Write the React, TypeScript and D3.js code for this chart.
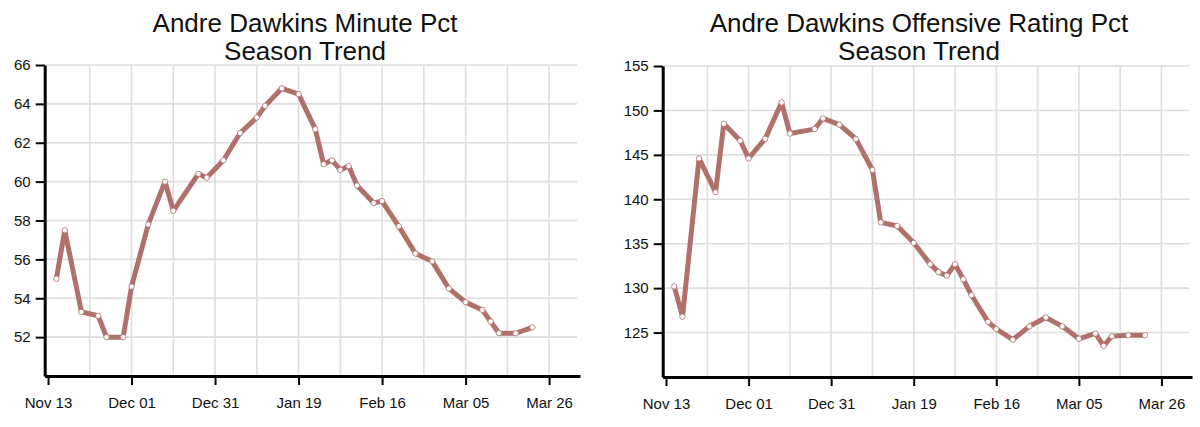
import { useEffect, useRef } from "react";
import * as d3 from "d3";

// game slots on the x axis (same for both charts)
const gameSlots = [
  1, 2, 4, 6, 7, 9, 10, 12, 14, 15, 18, 19, 21, 23, 25, 26, 28, 30, 32, 33, 34,
  35, 36, 37, 39, 40, 42, 44, 46, 48, 50, 52, 53, 54, 56, 58,
];
const minutePct = [
  55.0, 57.5, 53.3, 53.1, 52.0, 52.0, 54.6, 57.8, 60.0, 58.5, 60.4, 60.2, 61.1,
  62.5, 63.3, 63.9, 64.8, 64.5, 62.7, 60.9, 61.1, 60.6, 60.8, 59.8, 58.9, 59.0,
  57.7, 56.3, 55.9, 54.5, 53.8, 53.4, 52.8, 52.2, 52.2, 52.5,
];
const offRatingPct = [
  130.2, 126.8, 144.6, 140.8, 148.5, 146.6, 144.6, 146.8, 150.9, 147.4, 147.9,
  149.1, 148.4, 146.8, 143.3, 137.4, 137.0, 135.1, 132.7, 131.8, 131.4, 132.7,
  131.0, 129.2, 126.2, 125.4, 124.2, 125.7, 126.7, 125.7, 124.3, 124.9, 123.5,
  124.6, 124.7, 124.7,
];
const dateTicks = [0, 10, 20, 30, 40, 50, 60];
const dateLabels = ["Nov 13", "Dec 01", "Dec 31", "Jan 19", "Feb 16", "Mar 05", "Mar 26"];
const minuteTicks = [52, 54, 56, 58, 60, 62, 64, 66];
const ratingTicks = [125, 130, 135, 140, 145, 150, 155];

const FONT = "'Liberation Sans', Arial, Helvetica, sans-serif";
const LINE = "#b0716b";

type ChartProps = {
  title: string;
  values: number[];
  yDomain: [number, number];
  yTicks: number[];
  offsetX: number;
  left: number;
  right: number;
  top: number;
  bottom: number;
  titleX: number;
};

function TrendChart(props: ChartProps) {
  const ref = useRef<SVGGElement>(null);

  useEffect(() => {
    const { title, values, yDomain, yTicks, left, right, top, bottom, titleX } = props;
    const g = d3.select(ref.current);
    g.selectAll("*").remove();

    const x = d3.scaleLinear().domain([-0.4, 63.7]).range([left, right]);
    const y = d3.scaleLinear().domain(yDomain).range([bottom, top]);

    // grid
    g.append("g")
      .selectAll("line")
      .data(d3.range(5, 61, 5))
      .join("line")
      .attr("x1", (d) => x(d))
      .attr("x2", (d) => x(d))
      .attr("y1", top)
      .attr("y2", bottom)
      .attr("stroke", "#dedede")
      .attr("stroke-width", 1.6);
    g.append("g")
      .selectAll("line")
      .data(yTicks)
      .join("line")
      .attr("x1", left)
      .attr("x2", right - 3)
      .attr("y1", (d) => y(d))
      .attr("y2", (d) => y(d))
      .attr("stroke", "#dedede")
      .attr("stroke-width", 1.6);

    // axes
    const styleAxis = (s: d3.Selection<SVGGElement, unknown, null, undefined>) => {
      s.select(".domain").attr("stroke", "#000").attr("stroke-width", 3);
      s.selectAll(".tick line").attr("stroke", "#000").attr("stroke-width", 2);
      s.selectAll(".tick text")
        .attr("fill", "#111")
        .style("font-family", FONT)
        .style("font-size", "15px");
    };

    g.append("g")
      .attr("transform", `translate(0,${bottom})`)
      .call(
        d3
          .axisBottom(x)
          .tickValues(dateTicks)
          .tickFormat((_, i) => dateLabels[i])
          .tickSize(9)
          .tickSizeOuter(0)
          .tickPadding(12)
      )
      .call(styleAxis);

    g.append("g")
      .attr("transform", `translate(${left},0)`)
      .call(
        d3
          .axisLeft(y)
          .tickValues(yTicks)
          .tickSize(9)
          .tickSizeOuter(0)
          .tickPadding(5)
      )
      .call(styleAxis);

    // trend line
    const line = d3
      .line<number>()
      .x((_, i) => x(gameSlots[i]))
      .y((d) => y(d));
    g.append("path")
      .datum(values)
      .attr("d", line)
      .attr("fill", "none")
      .attr("stroke", LINE)
      .attr("stroke-width", 5)
      .attr("stroke-linejoin", "round");
    g.append("g")
      .selectAll("circle")
      .data(values)
      .join("circle")
      .attr("cx", (_, i) => x(gameSlots[i]))
      .attr("cy", (d) => y(d))
      .attr("r", 2.7)
      .attr("fill", "#fff")
      .attr("stroke", LINE)
      .attr("stroke-width", 0.8);

    // title
    const t = g
      .append("text")
      .attr("text-anchor", "middle")
      .attr("fill", "#111")
      .style("font-family", FONT)
      .style("font-size", "26px");
    t.append("tspan").attr("x", titleX).attr("y", 32).text(title);
    t.append("tspan").attr("x", titleX).attr("y", 60).text("Season Trend");
  }, []);

  return <g ref={ref} transform={`translate(${props.offsetX},0)`} />;
}

export default function App() {
  return (
    <svg
      width={1200}
      height={427}
      style={{ position: "absolute", left: 0, top: 0, background: "#fff" }}
    >
      <TrendChart
        title="Andre Dawkins Minute Pct"
        values={minutePct}
        yDomain={[50, 66]}
        yTicks={minuteTicks}
        offsetX={0}
        left={44.7}
        right={580}
        top={65}
        bottom={376}
        titleX={305}
      />
      <TrendChart
        title="Andre Dawkins Offensive Rating Pct"
        values={offRatingPct}
        yDomain={[120, 155]}
        yTicks={ratingTicks}
        offsetX={618}
        left={44.7}
        right={574}
        top={66}
        bottom={377}
        titleX={301}
      />
    </svg>
  );
}
